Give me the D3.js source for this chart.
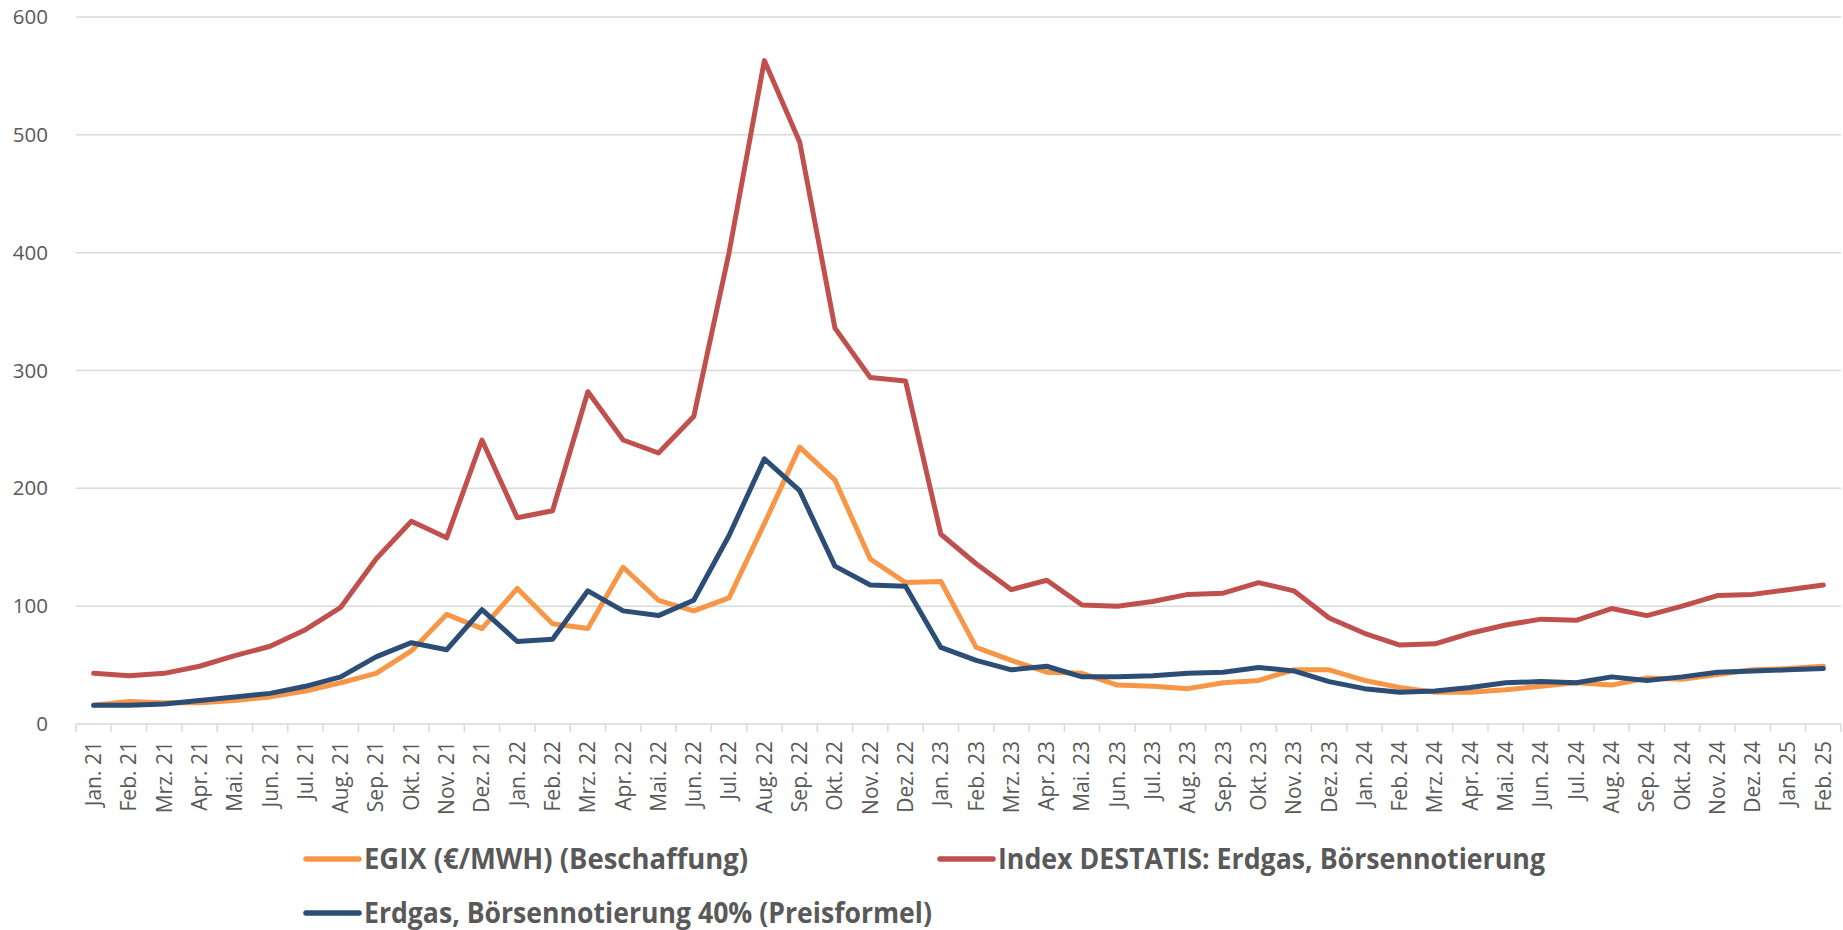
<!DOCTYPE html>
<html>
<head>
<meta charset="utf-8">
<script src="https://cdn.jsdelivr.net/npm/d3@7"></script>
<style>
  body { margin: 0; background: #fff; }
  svg text { font-family: "Open Sans", sans-serif; fill: #595959; }
</style>
</head>
<body>
<svg id="chart"></svg>
<script>
const months = ["Jan. 21","Feb. 21","Mrz. 21","Apr. 21","Mai. 21","Jun. 21","Jul. 21","Aug. 21","Sep. 21","Okt. 21","Nov. 21","Dez. 21",
	"Jan. 22","Feb. 22","Mrz. 22","Apr. 22","Mai. 22","Jun. 22","Jul. 22","Aug. 22","Sep. 22","Okt. 22","Nov. 22","Dez. 22",
	"Jan. 23","Feb. 23","Mrz. 23","Apr. 23","Mai. 23","Jun. 23","Jul. 23","Aug. 23","Sep. 23","Okt. 23","Nov. 23","Dez. 23",
	"Jan. 24","Feb. 24","Mrz. 24","Apr. 24","Mai. 24","Jun. 24","Jul. 24","Aug. 24","Sep. 24","Okt. 24","Nov. 24","Dez. 24",
	"Jan. 25","Feb. 25"];

const egix = [16,19,18,18,20,23,28,35,43,62,93,81,115,85,81,133,105,96,107,170,235,207,140,120,
	121,65,54,44,43,33,32,30,35,37,46,46,37,31,27,27,29,32,35,33,39,38,42,46,47,49];
const destatis = [43,41,43,49,58,66,80,99,140,172,158,241,175,181,282,241,230,261,400,563,494,336,294,291,
	161,136,114,122,101,100,104,110,111,120,113,90,77,67,68,77,84,89,88,98,92,100,109,110,114,118];
const formel = [16,16,17,20,23,26,32,40,57,69,63,97,70,72,113,96,92,105,160,225,198,134,118,117,
	65,54,46,49,40,40,41,43,44,48,45,36,30,27,28,31,35,36,35,40,37,40,44,45,46,47];

const yTicks = [0, 100, 200, 300, 400, 500, 600];

const seriesNames = ["EGIX (€/MWH) (Beschaffung)", "Index DESTATIS: Erdgas, Börsennotierung", "Erdgas, Börsennotierung 40% (Preisformel)"];
const seriesColors = ["#F79646", "#C0504D", "#2C4D75"];

let width = 1843, height = 930;
let plotLeft = 76, plotRight = 1841, plotTop = 17, plotBottom = 724;

let svg = d3.select("#chart").attr("width", width).attr("height", height);

let x = d3.scaleBand().domain(months).range([plotLeft, plotRight]);
let y = d3.scaleLinear().domain([0, 600]).range([plotBottom, plotTop]);

// gridlines
svg.append("g").selectAll("line")
	.data(yTicks.filter(d => d > 0))
	.enter()
	.append("line")
	.attr("x1", plotLeft).attr("x2", plotRight)
	.attr("y1", d => y(d)).attr("y2", d => y(d))
	.style("stroke", "#d9d9d9")
	.style("stroke-width", 1.5);

// y labels
let gY = svg.append("g").attr("transform", `translate(${plotLeft},0)`)
	.call(d3.axisLeft(y).tickValues(yTicks).tickSize(0).tickPadding(28));
gY.select(".domain").remove();
gY.selectAll("text").style("font-size", "20.5px").attr("fill", "#595959");

// x axis line + ticks at band edges
let edges = months.map(m => x(m)).concat([plotRight]);
svg.append("line")
	.attr("x1", plotLeft).attr("x2", plotRight)
	.attr("y1", plotBottom).attr("y2", plotBottom)
	.style("stroke", "#d9d9d9").style("stroke-width", 1.5);
svg.append("g").selectAll("line")
	.data(edges)
	.enter()
	.append("line")
	.attr("x1", d => d).attr("x2", d => d)
	.attr("y1", plotBottom).attr("y2", plotBottom + 8)
	.style("stroke", "#d9d9d9").style("stroke-width", 1.5);

let gX = svg.append("g").attr("transform", `translate(0,${plotBottom})`)
	.call(d3.axisBottom(x).tickSize(0));
gX.select(".domain").remove();
gX.selectAll("text")
	.attr("transform", "rotate(-90)")
	.attr("x", -17)
	.attr("y", 0)
	.attr("dy", "0.35em")
	.style("text-anchor", "end")
	.style("font-size", "21px")
	.attr("fill", "#595959");

// lines
let line = d3.line()
	.x((d, i) => x(months[i]) + x.bandwidth() / 2)
	.y(d => y(d));

[egix, destatis, formel].forEach((vals, i) => {
	svg.append("path")
		.datum(vals)
		.attr("d", line)
		.style("fill", "none")
		.style("stroke", seriesColors[i])
		.style("stroke-width", 5)
		.style("stroke-linejoin", "round")
		.style("stroke-linecap", "round");
});

// legend
let legendItems = [
	{ x: 306, y: 859, w: 384 },
	{ x: 940, y: 859, w: 547 },
	{ x: 306, y: 913, w: 568 }
];
let gLegend = svg.append("g");
legendItems.forEach((p, i) => {
	gLegend.append("line")
		.attr("x1", p.x).attr("x2", p.x + 53)
		.attr("y1", p.y).attr("y2", p.y)
		.style("stroke", seriesColors[i])
		.style("stroke-width", 5.5)
		.style("stroke-linecap", "round");
	gLegend.append("text")
		.attr("x", p.x + 58)
		.attr("y", p.y)
		.attr("dy", "0.36em")
		.attr("textLength", p.w)
		.attr("lengthAdjust", "spacingAndGlyphs")
		.style("font-size", "28px")
		.style("font-weight", "bold")
		.attr("fill", "#595959")
		.text(seriesNames[i]);
});
</script>
</body>
</html>
